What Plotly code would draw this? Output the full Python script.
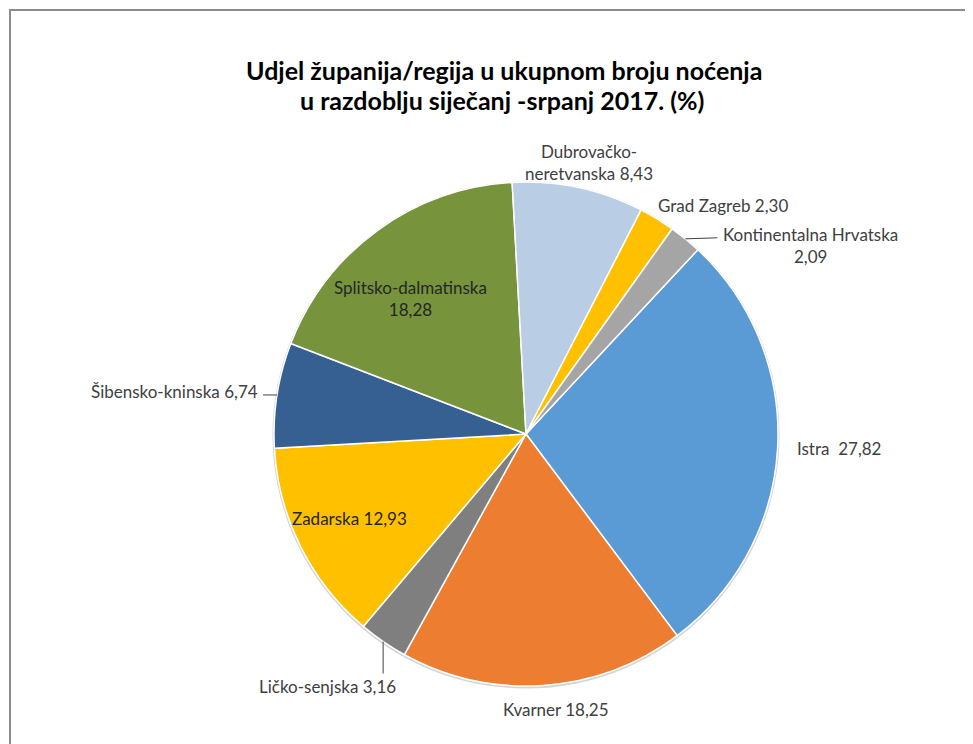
import math
import plotly.graph_objects as go

# --- data ---
regions = [
    "Istra",
    "Kvarner",
    "Ličko-senjska",
    "Zadarska",
    "Šibensko-kninska",
    "Splitsko-dalmatinska",
    "Dubrovačko-neretvanska",
    "Grad Zagreb",
    "Kontinentalna Hrvatska",
]
shares = [27.82, 18.25, 3.16, 12.93, 6.74, 18.28, 8.43, 2.30, 2.09]
label_text = [
    "Istra  27,82",
    "Kvarner 18,25",
    "Ličko-senjska 3,16",
    "Zadarska 12,93",
    "Šibensko-kninska 6,74",
    "Splitsko-dalmatinska<br>18,28",
    "Dubrovačko-<br>neretvanska 8,43",
    "Grad Zagreb 2,30",
    "Kontinentalna Hrvatska<br>2,09",
]

# --- styling ---
COLORS = ["#5B9BD5", "#ED7D31", "#7F7F7F", "#FFC000", "#366092",
          "#77933C", "#B9CDE5", "#FFC000", "#A5A5A5"]
FONT = "Lato"
W, H = 973, 744
OFF = 8  # page body margin shifts the plot by 8px
ROTATION = 43

# pie centre / radius in pixels -> domain
cx, cy, r = 526 - OFF, 434 - OFF, 252
dom_x = [(cx - r) / W, (cx + r) / W]
dom_y = [(H - cy - r) / H, (H - cy + r) / H]

# label placement: pixel offset from the slice's mid point on the rim,
# x anchor, inside/outside, optional leader line end (offset from rim)
label_style = [
    dict(dx=17, dy=1, xanchor="left", inside=False, leader=None),
    dict(dx=12, dy=24, xanchor="center", inside=False, leader=None),
    dict(dx=-56, dy=45, xanchor="center", inside=False, leader=(0, 32)),
    dict(dx=49, dy=-28, xanchor="center", inside=True, leader=None),
    dict(dx=-17, dy=-3, xanchor="right", inside=False, leader=(-14, 0)),
    dict(dx=33, dy=68, xanchor="center", inside=True, leader=None),
    dict(dx=11, dy=-25, xanchor="center", inside=False, leader=None),
    dict(dx=-1, dy=-13, xanchor="left", inside=False, leader=None),
    dict(dx=125, dy=7, xanchor="center", inside=False, leader=(32, -1)),
]


def to_paper(px, py):
    return px / W, 1 - py / H


fig = go.Figure()
fig.add_trace(go.Pie(
    labels=regions,
    values=shares,
    textinfo="none",
    sort=False,
    direction="clockwise",
    rotation=ROTATION,
    marker=dict(colors=COLORS, line=dict(color="white", width=1.5)),
    domain=dict(x=dom_x, y=dom_y),
    automargin=False,
    showlegend=False,
    hoverinfo="label+value",
))

annotations = []
shapes = []

# soft shadow ring behind the pie
sx0, sy0 = to_paper(cx - r - 1.5, cy - r - 0.5)
sx1, sy1 = to_paper(cx + r + 1.5, cy + r + 2.5)
shapes.append(dict(type="circle", xref="paper", yref="paper", layer="below",
                   x0=sx0, x1=sx1, y0=sy1, y1=sy0,
                   fillcolor="#D4D4D4", line=dict(width=0)))

total = sum(shares)
start = ROTATION
for txt, val, st in zip(label_text, shares, label_style):
    sweep = val / total * 360
    mid = math.radians(start + sweep / 2)
    start += sweep
    ex = cx + r * math.sin(mid)
    ey = cy - r * math.cos(mid)
    lx, ly = to_paper(ex + st["dx"], ey + st["dy"])
    annotations.append(dict(
        text=txt, x=lx, y=ly, xref="paper", yref="paper",
        xanchor=st["xanchor"], yanchor="middle", showarrow=False,
        align="center",
        font=dict(family=FONT, size=17,
                  color="#262626" if st["inside"] else "#404040"),
    ))
    if st["leader"]:
        x0, y0 = to_paper(ex, ey)
        x1, y1 = to_paper(ex + st["leader"][0], ey + st["leader"][1])
        shapes.append(dict(type="line", xref="paper", yref="paper",
                           x0=x0, y0=y0, x1=x1, y1=y1,
                           line=dict(color="#404040", width=1)))

# title, two lines
annotations.append(dict(
    text="<b>Udjel županija/regija u ukupnom broju noćenja</b>",
    x=(504 - OFF) / W, y=1 - (70 - OFF) / H, xref="paper", yref="paper",
    xanchor="center", yanchor="middle", showarrow=False,
    font=dict(family=FONT, size=25, color="black"),
))
annotations.append(dict(
    text="<b>u razdoblju siječanj -srpanj 2017. (%)</b>",
    x=(502 - OFF) / W, y=1 - (100 - OFF) / H, xref="paper", yref="paper",
    xanchor="center", yanchor="middle", showarrow=False,
    font=dict(family=FONT, size=25, color="black"),
))

# chart-area frame (only top and left visible in the crop)
shapes.append(dict(
    type="rect", xref="paper", yref="paper",
    x0=(10 - OFF) / W, x1=1.02, y0=-0.02, y1=1 - (10 - OFF) / H,
    line=dict(color="#8C8C8C", width=2),
))

fig.update_layout(
    width=W, height=H,
    margin=dict(l=0, r=0, t=0, b=0),
    paper_bgcolor="white",
    annotations=annotations,
    shapes=shapes,
)

fig.write_html("out.html")
